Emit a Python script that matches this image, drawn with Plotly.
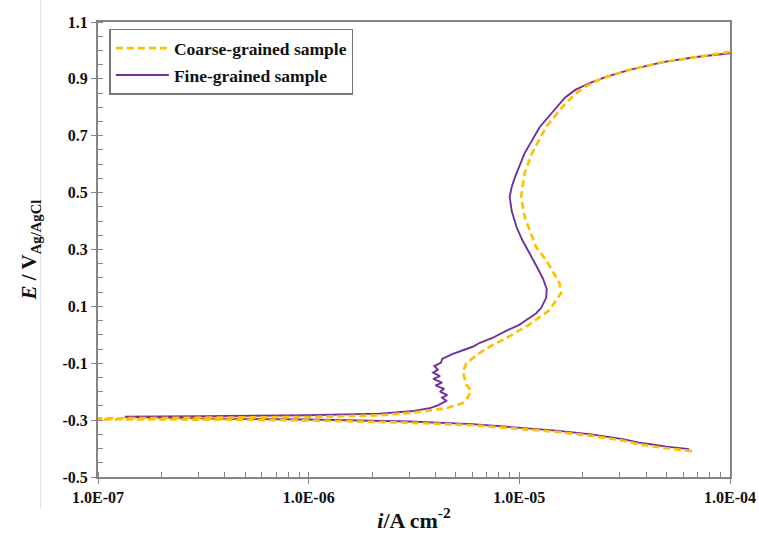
import plotly.graph_objects as go

# ---------------- data (current density A/cm^2, potential V vs Ag/AgCl) ----------------
# Coarse-grained sample: cathodic branch (from most negative potential toward Ecorr)
coarse_cath_i = [6.6e-5, 5.8e-5, 5.0e-5, 4.2e-5, 3.7e-5, 3.1e-5, 2.2e-5, 1.5e-5, 1.0e-5,
                 6.0e-6, 3.0e-6, 1.0e-6, 3.0e-7, 1.0e-7]
coarse_cath_E = [-0.409, -0.405, -0.399, -0.391, -0.385, -0.372, -0.355, -0.341, -0.330,
                 -0.318, -0.309, -0.301, -0.298, -0.297]
# Coarse-grained sample: anodic branch
coarse_an_i = [1.0e-7, 3.2e-7, 1.0e-6, 2.17e-6, 3.2e-6, 4.5e-6, 5.4e-6, 5.7e-6, 5.9e-6,
               5.6e-6, 5.5e-6, 5.4e-6, 5.6e-6, 6.46e-6, 7.5e-6, 8.7e-6, 1.11e-5, 1.39e-5,
               1.58e-5, 1.55e-5, 1.34e-5, 1.2e-5, 1.06e-5, 1.02e-5, 1.06e-5, 1.15e-5,
               1.34e-5, 1.6e-5, 1.8e-5, 2.0e-5, 2.4e-5, 3.3e-5, 4.8e-5, 6.9e-5, 1.0e-4]
coarse_an_E = [-0.294, -0.292, -0.289, -0.283, -0.273, -0.258, -0.240, -0.220, -0.196,
               -0.175, -0.155, -0.130, -0.100, -0.064, -0.035, -0.011, 0.035, 0.087,
               0.147, 0.182, 0.263, 0.309, 0.414, 0.485, 0.569, 0.639,
               0.731, 0.801, 0.840, 0.868, 0.898, 0.931, 0.959, 0.978, 0.995]

# Fine-grained sample: cathodic branch
fine_cath_i = [6.4e-5, 5.8e-5, 5.0e-5, 4.2e-5, 3.7e-5, 3.1e-5, 2.2e-5, 1.5e-5, 1.0e-5,
               6.0e-6, 3.0e-6, 1.0e-6, 3.0e-7, 1.34e-7]
fine_cath_E = [-0.402, -0.399, -0.393, -0.385, -0.379, -0.367, -0.350, -0.337, -0.326,
               -0.314, -0.305, -0.298, -0.294, -0.290]
# Fine-grained sample: anodic branch
fine_an_i = [1.34e-7, 3.2e-7, 1.0e-6, 2.17e-6, 3.16e-6, 3.8e-6, 4.1e-6, 4.5e-6, 4.3e-6,
             4.55e-6, 4.2e-6, 4.4e-6, 4.0e-6, 4.3e-6, 3.9e-6, 4.2e-6, 3.9e-6, 4.1e-6,
             3.95e-6, 4.25e-6, 4.3e-6, 4.8e-6, 5.2e-6, 6.0e-6, 6.5e-6, 7.4e-6, 8.7e-6,
             1.0e-5, 1.08e-5, 1.2e-5, 1.27e-5, 1.34e-5, 1.35e-5, 1.30e-5, 1.22e-5,
             1.12e-5, 1.03e-5, 9.7e-6, 9.2e-6, 9.0e-6, 9.2e-6, 9.6e-6, 1.06e-5, 1.25e-5,
             1.5e-5, 1.65e-5, 1.85e-5, 2.2e-5, 2.6e-5, 3.3e-5, 4.8e-5, 6.9e-5, 1.0e-4]
fine_an_E = [-0.288, -0.286, -0.283, -0.277, -0.268, -0.257, -0.248, -0.232, -0.221,
             -0.212, -0.200, -0.190, -0.178, -0.168, -0.155, -0.145, -0.133, -0.122,
             -0.110, -0.098, -0.085, -0.068, -0.058, -0.042, -0.028, -0.012, 0.015,
             0.035, 0.052, 0.075, 0.095, 0.130, 0.160, 0.195, 0.235,
             0.288, 0.335, 0.379, 0.435, 0.485, 0.520, 0.560, 0.639, 0.731,
             0.801, 0.835, 0.862, 0.888, 0.908, 0.931, 0.959, 0.977, 0.990]

x_tickvals = [1e-7, 1e-6, 1e-5, 1e-4]
x_ticktext = ["1.0E-07", "1.0E-06", "1.0E-05", "1.0E-04"]
y_tickvals = [1.1, 0.9, 0.7, 0.5, 0.3, 0.1, -0.1, -0.3, -0.5]
y_ticktext = ["1.1", "0.9", "0.7", "0.5", "0.3", "0.1", "-0.1", "-0.3", "-0.5"]

series_names = ["Coarse-grained sample", "Fine-grained sample"]
ORANGE = "#FFC000"
PURPLE = "#7030A0"
FONT = "Liberation Serif"

fig = go.Figure()

fig.add_trace(go.Scatter(
    x=fine_cath_i + fine_an_i, y=fine_cath_E + fine_an_E,
    mode="lines", name=series_names[1], legendrank=2, legendgroup="fine",
    line=dict(color=PURPLE, width=1.9),
))
fig.add_trace(go.Scatter(
    x=coarse_cath_i + coarse_an_i, y=coarse_cath_E + coarse_an_E,
    mode="lines", name=series_names[0], legendrank=1, legendgroup="coarse",
    line=dict(color=ORANGE, width=2.7, dash="7px,4px"),
))

axis_color = "#858585"
tick_font = dict(family=FONT, size=16, color="#111", weight="bold")
fig.update_xaxes(
    type="log", range=[-7, -4], automargin=False,
    tickvals=x_tickvals, ticktext=x_ticktext,
    ticks="outside", ticklen=5, tickwidth=1.2, tickcolor=axis_color,
    minor=dict(ticks="inside", ticklen=5, tickwidth=1, tickcolor=axis_color,
               dtick="D1", showgrid=False),
    showline=True, linecolor=axis_color, linewidth=2, mirror=True,
    showgrid=False, zeroline=False,
    tickfont=tick_font,
    title=dict(text="<b><i>i</i>/A cm<sup>-2</sup></b>",
               font=dict(family=FONT, size=22, color="#111"), standoff=7),
)
fig.update_yaxes(
    range=[-0.5, 1.1], automargin=False,
    tickvals=y_tickvals, ticktext=y_ticktext,
    ticks="outside", ticklen=5, tickwidth=1.2, tickcolor=axis_color,
    minor=dict(ticks="inside", ticklen=5, tickwidth=1, tickcolor=axis_color,
               dtick=0.05, tick0=0, showgrid=False),
    showline=True, linecolor=axis_color, linewidth=2, mirror=True,
    showgrid=False, zeroline=False,
    tickfont=tick_font,
    title=dict(text="<b><i>E</i> / V<sub>Ag/AgCl</sub></b>",
               font=dict(family=FONT, size=21, color="#111"), standoff=20),
)

fig.update_layout(
    width=759, height=540,
    margin=dict(l=98, r=29, t=22, b=63, pad=0),
    paper_bgcolor="white", plot_bgcolor="white",
    showlegend=True,
    legend=dict(
        x=0.018, y=0.985, xanchor="left", yanchor="top",
        bgcolor="white", bordercolor="#777", borderwidth=1.5,
        font=dict(family=FONT, size=17.5, color="#111", weight="bold"),
        tracegroupgap=1, itemwidth=53,
    ),
    shapes=[dict(type="line", xref="paper", yref="paper",
                 x0=-0.091, x1=-0.091, y0=-0.07, y1=1.05,
                 line=dict(color="#e2e2e2", width=1))],
)

fig.write_html("out.html")
